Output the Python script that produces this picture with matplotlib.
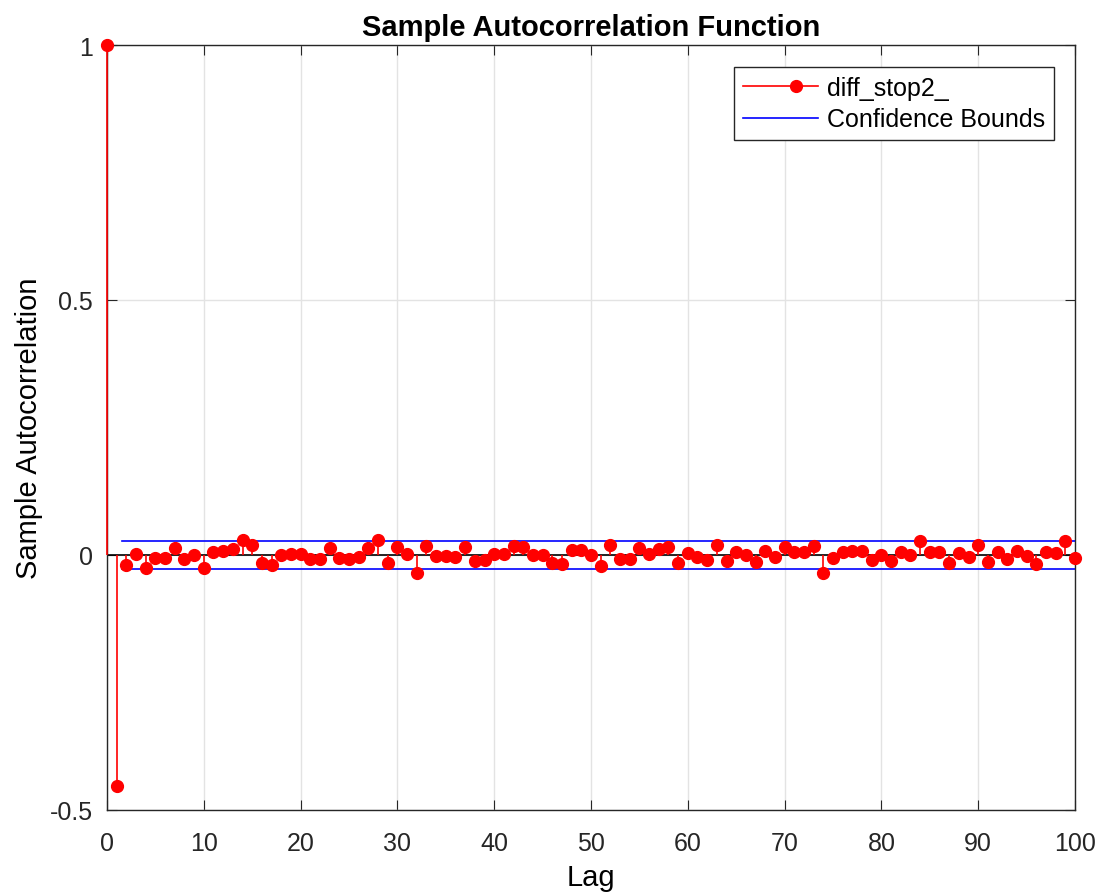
import numpy as np
import matplotlib
matplotlib.use('Agg')
from matplotlib import pyplot as plt
from matplotlib.lines import Line2D
from matplotlib.legend_handler import HandlerBase

plt.rcParams['font.family'] = ['Liberation Sans', 'DejaVu Sans']

# autocorrelation values (lags 0..100)
lags = list(range(0, 101))
acf = [1.0, -0.453, -0.020, 0.002, -0.025, -0.006, -0.006, 0.013, -0.008, 0.000,
       -0.025, 0.006, 0.008, 0.011, 0.030, 0.019, -0.016, -0.020, 0.000, 0.002,
       0.002, -0.008, -0.008, 0.013, -0.006, -0.008, -0.004, 0.013, 0.030, -0.016,
       0.015, 0.002, -0.035, 0.017, -0.002, -0.002, -0.004, 0.015, -0.012, -0.010,
       0.002, 0.002, 0.017, 0.015, 0.000, 0.000, -0.016, -0.018, 0.010, 0.010,
       0.000, -0.022, 0.020, -0.008, -0.008, 0.013, 0.002, 0.011, 0.015, -0.016,
       0.004, -0.004, -0.010, 0.019, -0.012, 0.006, 0.000, -0.014, 0.008, -0.004,
       0.015, 0.006, 0.006, 0.017, -0.035, -0.006, 0.006, 0.008, 0.008, -0.010,
       0.000, -0.012, 0.006, 0.000, 0.027, 0.006, 0.006, -0.016, 0.004, -0.004,
       0.019, -0.014, 0.006, -0.008, 0.008, -0.002, -0.018, 0.006, 0.004, 0.027,
       -0.006]
bound = 0.0275
bound_x = [1.5, 100]


class StemHandler(HandlerBase):
    # matlab style legend entry: line with the marker near its right end
    def create_artists(self, legend, orig_handle, xdescent, ydescent,
                       width, height, fontsize, trans):
        y = height / 2 - ydescent
        ln = Line2D([-xdescent, width - xdescent], [y, y], color='red', lw=1.2,
                    transform=trans)
        mk = Line2D([-xdescent + 0.7 * width], [y], marker='o', color='red',
                    ms=8.5, ls='none', transform=trans)
        return [ln, mk]


fig = plt.figure(figsize=(11.02, 8.95), dpi=100)
ax = fig.add_axes([0.0971, 0.0939, 0.8784, 0.8547])

ax.vlines(lags, 0, acf, color='red', lw=1.2, zorder=3, clip_on=False)
ax.plot(lags, acf, 'o', color='red', ms=8.5, zorder=4, clip_on=False)
ax.axhline(0, color='black', lw=1.2, zorder=2)
ax.plot(bound_x, [bound, bound], color='blue', lw=1.2, zorder=3)
ax.plot(bound_x, [-bound, -bound], color='blue', lw=1.2, zorder=3)

ax.set_xlim(0, 100)
ax.set_ylim(-0.5, 1)
ax.set_xticks(range(0, 101, 10))
ax.set_yticks([-0.5, 0, 0.5, 1])
ax.set_yticklabels(['-0.5', '0', '0.5', '1'])
ax.grid(True, color='#e3e3e3', lw=1)
ax.set_axisbelow(True)
ax.tick_params(direction='in', top=True, right=True, labelsize=18,
               colors='#262626', length=7)
ax.tick_params(axis='x', pad=15)
ax.tick_params(axis='y', pad=10)
for s in ax.spines.values():
    s.set_color('#262626')
    s.set_linewidth(1)

ax.set_title('Sample Autocorrelation Function', fontsize=21, fontweight='bold', pad=7)
ax.set_xlabel('Lag', fontsize=21, labelpad=6)
ax.set_ylabel('Sample Autocorrelation', fontsize=21, labelpad=5)

stem_h = Line2D([0], [0], color='red')
blue_h = Line2D([0], [0], color='blue', lw=1.2)
leg = ax.legend([stem_h, blue_h], ['diff_stop2_', 'Confidence Bounds'],
                handler_map={stem_h: StemHandler()},
                loc='upper right', bbox_to_anchor=(0.978, 0.971), fontsize=18,
                fancybox=False, framealpha=1, edgecolor='#262626',
                handlelength=3.0, handletextpad=0.35, borderpad=0.35,
                labelspacing=0.3, borderaxespad=0)
leg.get_frame().set_linewidth(1)

fig.savefig('out.png', dpi=100)
